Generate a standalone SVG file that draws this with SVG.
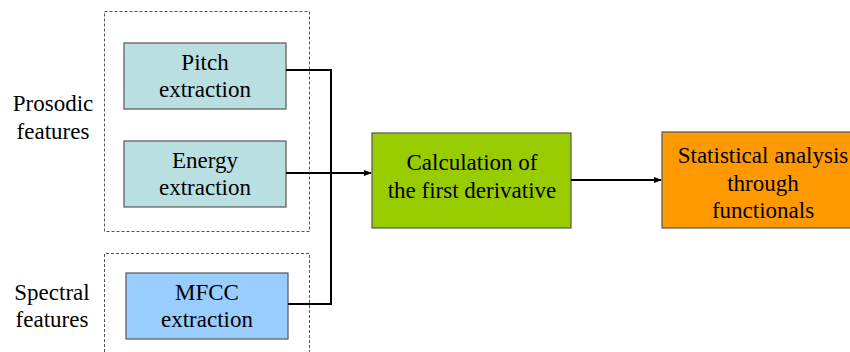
<svg xmlns="http://www.w3.org/2000/svg" width="850" height="352" viewBox="0 0 850 352">
<style>
text{font-family:'Liberation Serif','Times New Roman',Times,serif;font-size:23px;fill:#000;text-anchor:middle}
.grp{fill:none;stroke:#555;stroke-width:1;stroke-dasharray:3,2}
.box{stroke:#555;stroke-width:1.2}
.c{fill:none;stroke:#000;stroke-width:2}
</style>
<defs>
<marker id="ah" markerWidth="8" markerHeight="8" refX="7" refY="4" orient="auto" markerUnits="userSpaceOnUse">
<path d="M0,1 L8,4 L0,7 Z" fill="#000"/>
</marker>
</defs>
<g id="prosodic-group">
<rect class="grp" x="104.5" y="11.5" width="205" height="220"/>
<text x="53" y="111">Prosodic</text>
<text x="53" y="139">features</text>
</g>
<g id="spectral-group">
<path class="grp" d="M104.5,352 V253.5 H309.5 V352"/>
<text x="52" y="300">Spectral</text>
<text x="52" y="327">features</text>
</g>
<g id="pitch">
<rect class="box" x="124" y="43" width="162" height="66" fill="#b9dfe0"/>
<text x="205" y="70">Pitch</text>
<text x="205" y="97">extraction</text>
</g>
<g id="energy">
<rect class="box" x="124" y="141" width="162" height="66" fill="#b9dfe0"/>
<text x="205" y="168">Energy</text>
<text x="205" y="195">extraction</text>
</g>
<g id="mfcc">
<rect class="box" x="126" y="273" width="162" height="66" fill="#99ccff"/>
<text x="207" y="300">MFCC</text>
<text x="207" y="327">extraction</text>
</g>
<g id="derivative">
<rect class="box" x="372" y="133" width="199" height="95" fill="#99cc00"/>
<text x="472" y="170">Calculation of</text>
<text x="472" y="198">the first derivative</text>
</g>
<g id="statistical">
<rect class="box" x="662" y="132" width="200" height="96" fill="#ff9900"/>
<text x="763" y="163">Statistical analysis</text>
<text x="763" y="191">through</text>
<text x="763" y="218">functionals</text>
</g>
<g id="connectors">
<path class="c" d="M286,70 H331 V304 H288"/>
<path class="c" d="M286,173 H371" marker-end="url(#ah)"/>
<path class="c" d="M571,180 H661" marker-end="url(#ah)"/>
</g>
</svg>
